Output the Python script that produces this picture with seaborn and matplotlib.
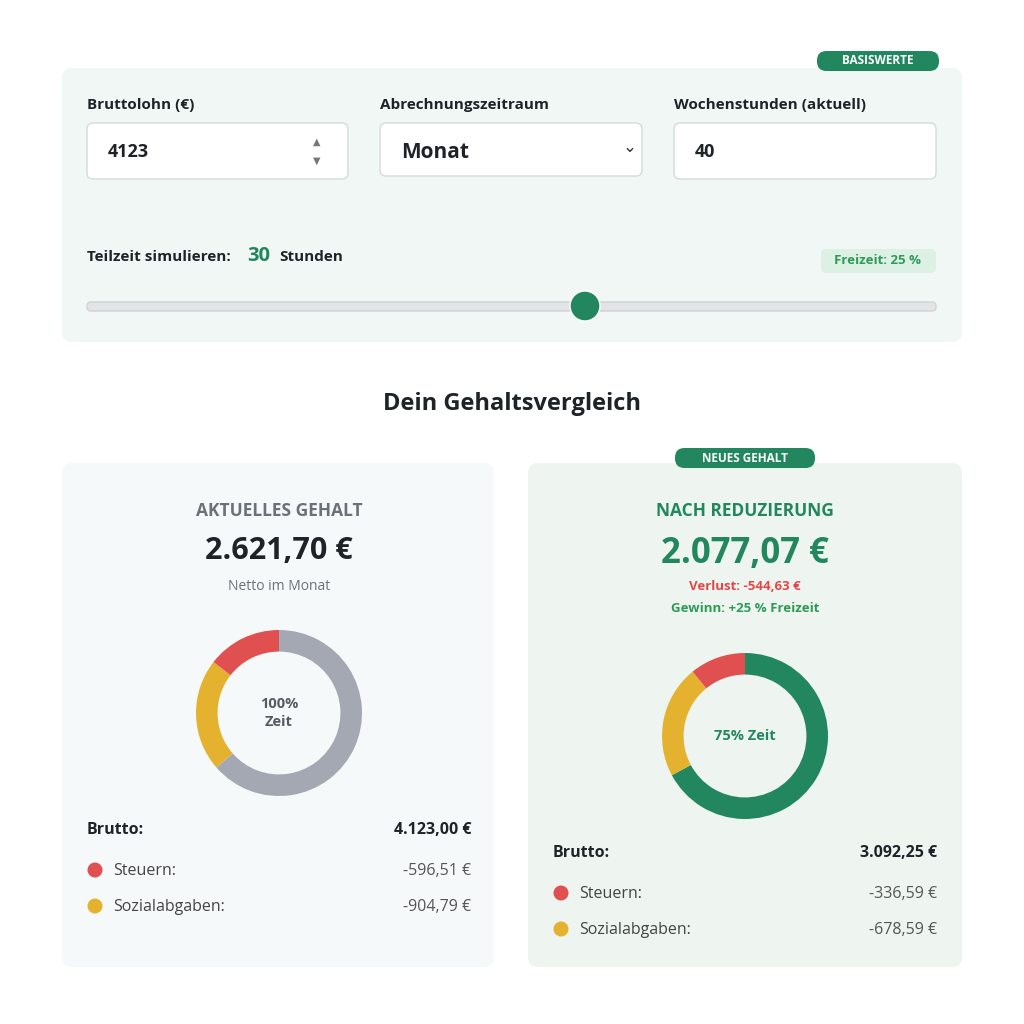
import matplotlib
matplotlib.use("Agg")
import matplotlib.pyplot as plt
from matplotlib.patches import FancyBboxPatch, Circle
import seaborn as sns

sns.set_theme(style="white")
plt.rcParams['font.family'] = ['Open Sans', 'DejaVu Sans']

# data
labels = ["Netto", "Sozialabgaben", "Steuern"]
current_values = [2621.70, 904.79, 596.51]
reduced_values = [2077.07, 678.59, 336.59]
current_colors = ["#a3a8b3", "#e5b22f", "#e05050"]
reduced_colors = ["#22875e", "#e5b22f", "#e05050"]
brutto = ["4.123,00 €", "3.092,25 €"]
steuern = ["-596,51 €", "-336,59 €"]
sozial = ["-904,79 €", "-678,59 €"]

GREEN = "#22875e"
DARK = "#1f2328"

fig = plt.figure(figsize=(10.24, 10.24), dpi=100)
ax = fig.add_axes([0, 0, 1, 1])
ax.set_xlim(0, 1024); ax.set_ylim(1024, 0); ax.axis("off")

def box(x0, y0, x1, y1, fc, ec="none", r=8, lw=1, z=1):
    ax.add_patch(FancyBboxPatch((x0 + r, y0 + r), x1 - x0 - 2 * r, y1 - y0 - 2 * r,
                                boxstyle=f"round,pad={r}", fc=fc, ec=ec, lw=lw, zorder=z))

def pill(cx, cy, w, h, fc, text, tc, size=8.5, z=5):
    box(cx - w / 2, cy - h / 2, cx + w / 2, cy + h / 2, fc, r=h / 2 - 0.5, z=z)
    ax.text(cx, cy, text, ha="center", va="center", color=tc, fontsize=size, fontweight="bold", zorder=z + 1)

# top panel
box(62, 68, 962, 342, "#f1f7f4", r=10)
pill(878, 61, 122, 20, GREEN, "BASISWERTE", "white")
for x0, x1, y1, lab, val in [(87, 348, 179, "Bruttolohn (€)", "4123"),
                             (380, 642, 176, "Abrechnungszeitraum", "Monat"),
                             (674, 936, 179, "Wochenstunden (aktuell)", "40")]:
    ax.text(x0, 105, lab, ha="left", va="center", fontsize=11, fontweight="bold", color=DARK)
    box(x0, 123, x1, y1, "white", ec="#d5dbd8", r=6, z=2)
    ax.text(x0 + 21, 152, val, ha="left", va="center",
            fontsize=13 if val != "Monat" else 15, fontweight="bold", color=DARK, zorder=3)
ax.text(317, 142, "▲", ha="center", va="center", fontsize=7, color="#777", zorder=3)
ax.text(317, 161, "▼", ha="center", va="center", fontsize=7, color="#777", zorder=3)
ax.text(630, 148, "⌄", ha="center", va="center", fontsize=12, color="#333", zorder=3)

ax.text(87, 257, "Teilzeit simulieren:", ha="left", va="center", fontsize=11, fontweight="bold", color=DARK)
ax.text(247, 256, "30", ha="left", va="center", fontsize=14.5, fontweight="bold", color=GREEN)
ax.text(279, 257, "Stunden", ha="left", va="center", fontsize=11, fontweight="bold", color=DARK)
box(821, 249, 936, 273, "#dcf1e3", r=5, z=2)
ax.text(878, 261, "Freizeit: 25 %", ha="center", va="center", fontsize=9.5, fontweight="bold", color="#2e9a57", zorder=3)
box(87, 302, 936, 311, "#e2e4e6", ec="#d0d3d6", r=4, z=2)
ax.add_patch(Circle((585, 306), 15, fc=GREEN, ec="white", lw=1, zorder=4))

ax.text(512, 404, "Dein Gehaltsvergleich", ha="center", va="center", fontsize=17, fontweight="bold", color=DARK)

# cards
box(62, 463, 494, 967, "#f6f9fa", r=10)
box(528, 463, 962, 967, "#eef5f1", r=10)
pill(745, 458, 140, 20, GREEN, "NEUES GEHALT", "white")

ax.text(279, 511, "AKTUELLES GEHALT", ha="center", va="center", fontsize=12.5, fontweight="bold", color="#6b7178")
ax.text(279, 551, "2.621,70 €", ha="center", va="center", fontsize=22, fontweight="bold", color=DARK)
ax.text(279, 586, "Netto im Monat", ha="center", va="center", fontsize=10, color="#6b7178")

ax.text(745, 511, "NACH REDUZIERUNG", ha="center", va="center", fontsize=12.5, fontweight="bold", color=GREEN)
ax.text(745, 554, "2.077,07 €", ha="center", va="center", fontsize=25, fontweight="bold", color=GREEN)
ax.text(745, 586, "Verlust: -544,63 €", ha="center", va="center", fontsize=9.5, fontweight="bold", color="#e04848")
ax.text(745, 608, "Gewinn: +25 % Freizeit", ha="center", va="center", fontsize=9.5, fontweight="bold", color="#2e9a57")

def donut(cx, cy, vals, cols, txt, tc):
    r = 83
    a = fig.add_axes([(cx - r) / 1024, 1 - (cy + r) / 1024, 2 * r / 1024, 2 * r / 1024])
    a.pie(vals, colors=cols, startangle=90, counterclock=False,
          wedgeprops=dict(width=0.26, edgecolor="none"))
    a.set_xlim(-1, 1); a.set_ylim(-1, 1)
    a.set_aspect("equal"); a.axis("off")
    a.text(0, 0, txt, ha="center", va="center", fontsize=10.5, fontweight="bold", color=tc, linespacing=1.4)

donut(279, 713, current_values, current_colors, "100%\nZeit", "#555b62")
donut(745, 736, reduced_values, reduced_colors, "75% Zeit", GREEN)

for i, (x0, x1, yb) in enumerate([(87, 471, 830), (553, 937, 853)]):
    ax.text(x0, yb, "Brutto:", ha="left", va="center", fontsize=11.5, fontweight="bold", color=DARK)
    ax.text(x1, yb, brutto[i], ha="right", va="center", fontsize=11.5, fontweight="bold", color=DARK)
    for j, (lab, val, c) in enumerate([("Steuern:", steuern[i], "#e05050"), ("Sozialabgaben:", sozial[i], "#e5b22f")]):
        y = yb + 41 + j * 36
        ax.add_patch(Circle((x0 + 8, y - 1), 7.5, fc=c, ec="none", zorder=3))
        ax.text(x0 + 26, y, lab, ha="left", va="center", fontsize=11.5, color="#444")
        ax.text(x1, y, val, ha="right", va="center", fontsize=11.5, color="#555")

fig.savefig("out.png", dpi=100, facecolor="white")
